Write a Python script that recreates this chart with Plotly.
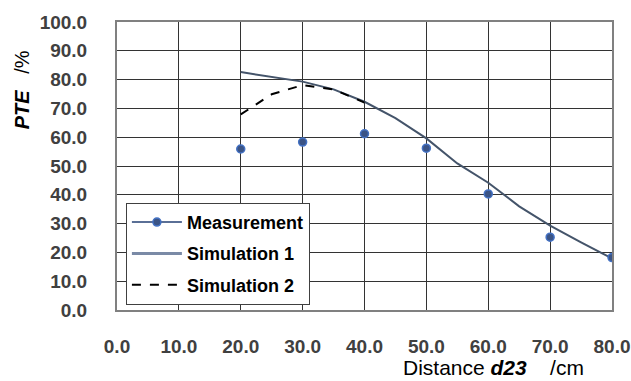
import plotly.graph_objects as go

distance_meas = [20, 30, 40, 50, 60, 70, 80]
pte_meas = [55.9, 58.3, 61.2, 56.2, 40.3, 25.3, 18.2]

distance_sim1 = [20, 25, 30, 35, 40, 45, 50, 55, 60, 65, 70, 75, 80]
pte_sim1 = [82.6, 81.0, 79.3, 76.6, 72.3, 66.6, 59.6, 50.9, 44.2, 36.0, 29.3, 23.5, 17.9]

distance_sim2 = [20, 25, 30, 35, 40]
pte_sim2 = [67.9, 74.9, 78.1, 76.6, 72.0]

x_ticks = [0, 10, 20, 30, 40, 50, 60, 70, 80]
y_ticks = [0, 10, 20, 30, 40, 50, 60, 70, 80, 90, 100]

FONT = "Liberation Sans, Arial, sans-serif"
SLATE = "#44546A"

fig = go.Figure()
fig.add_trace(go.Scatter(x=distance_sim1, y=pte_sim1, mode="lines", name="Simulation 1",
                         line=dict(color=SLATE, width=2), showlegend=False))
fig.add_trace(go.Scatter(x=distance_sim2, y=pte_sim2, mode="lines", name="Simulation 2",
                         line=dict(color="black", width=2, dash="dash"), showlegend=False))
fig.add_trace(go.Scatter(x=distance_meas, y=pte_meas, mode="markers", name="Measurement",
                         marker=dict(size=8, color="#3b5486", line=dict(color="#4472C4", width=1.5)),
                         showlegend=False))
# legend entries
fig.add_trace(go.Scatter(x=[None], y=[None], mode="lines+markers", name="Measurement",
                         legendgroup="a",
                         line=dict(color="#5a6f96", width=2),
                         marker=dict(size=8, color="#3b5486", line=dict(color="#4472C4", width=1.5))))
fig.add_trace(go.Scatter(x=[None], y=[None], mode="lines", name="Simulation 1",
                         legendgroup="b",
                         line=dict(color="#7a8aa6", width=3)))
fig.add_trace(go.Scatter(x=[None], y=[None], mode="lines", name="Simulation 2",
                         legendgroup="c",
                         line=dict(color="black", width=2, dash="dash")))

tickfont = dict(family=FONT, size=19, color="#404040", weight="bold")

fig.update_layout(
    width=631, height=381,
    margin=dict(l=117, r=19, t=22, b=71, autoexpand=False),
    paper_bgcolor="white", plot_bgcolor="white",
    font=dict(family=FONT),
    xaxis=dict(range=[0, 80], tickvals=x_ticks, ticktext=[f"{v:.1f}" for v in x_ticks],
               tickfont=tickfont, showgrid=True, gridcolor="#333333", gridwidth=1,
               showline=True, linecolor="#808080", linewidth=2, mirror=True,
               zeroline=False, ticks="", ticklabelstandoff=18, automargin=False),
    yaxis=dict(range=[0, 100], tickvals=y_ticks, ticktext=[f"{v:.1f}" for v in y_ticks],
               tickfont=tickfont, showgrid=True, gridcolor="#333333", gridwidth=1,
               showline=True, linecolor="#808080", linewidth=2, mirror=True,
               zeroline=False, ticks="", ticklabelstandoff=24, automargin=False),
    legend=dict(x=0.018, y=0.372, xanchor="left", yanchor="top",
                bgcolor="white", bordercolor="#404040", borderwidth=1,
                tracegroupgap=5, itemwidth=50,
                font=dict(family=FONT, size=18, color="black", weight="bold")),
    showlegend=True,
)

fig.add_annotation(text="<b><i>PTE</i></b>   /%", xref="paper", yref="paper",
                   x=-0.192, y=0.766, xanchor="center", yanchor="middle",
                   textangle=-90, showarrow=False,
                   font=dict(family=FONT, size=20, color="black"))
fig.add_annotation(text="Distance <b><i>d23</i></b>    /cm", xref="paper", yref="paper",
                   x=0.76, y=-0.2, showarrow=False, xanchor="center", yanchor="middle",
                   font=dict(family=FONT, size=21, color="black"))

fig.write_html("out.html")
